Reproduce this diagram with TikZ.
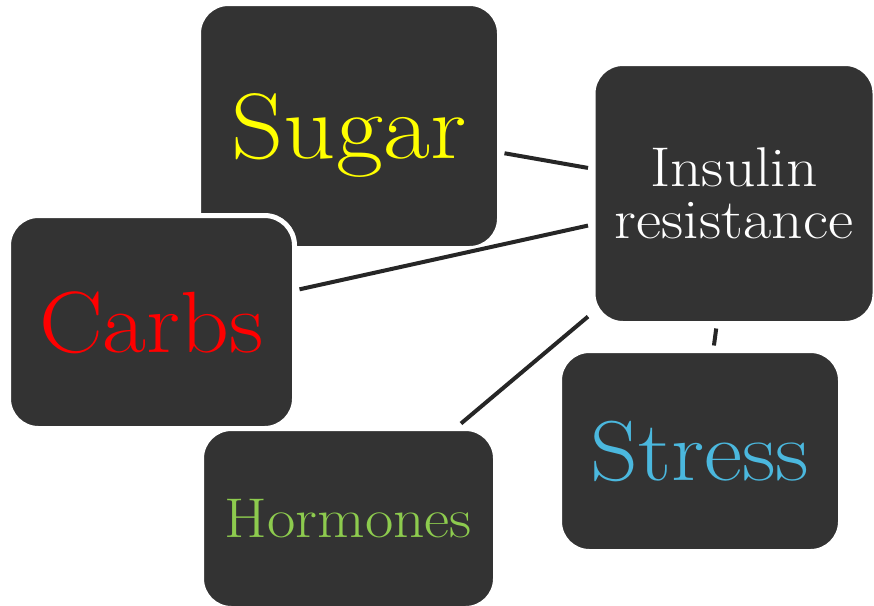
\documentclass[tikz,border=0pt]{standalone}
\definecolor{boxgray}{HTML}{333333}
\definecolor{linegray}{HTML}{262626}
\definecolor{sugaryellow}{HTML}{FFFF00}
\definecolor{carbsred}{HTML}{FF0000}
\definecolor{stressblue}{HTML}{4BB8DE}
\definecolor{hormgreen}{HTML}{8DCB4E}
\newcommand{\widetext}[1]{\scalebox{1.1}[1]{#1}}
\begin{document}
\begin{tikzpicture}[x=1pt,y=-1pt,
  box/.style={rectangle, rounded corners=30pt, fill=boxgray, draw=white, line width=5pt,
    inner sep=0pt, outer sep=5pt, align=center, text depth=0pt},
  link/.style={draw=linegray, line width=4pt}]
\useasboundingbox (0,0) rectangle (874,605);
\clip (0,0) rectangle (874,605);
\node[box, minimum width=301pt, minimum height=245pt, text=sugaryellow,
  font=\fontsize{93}{93}\selectfont] (sugar) at (349,126) {\widetext{Sugar}};
\node[box, minimum width=282pt, minimum height=260pt, text=white,
  font=\fontsize{56}{52}\selectfont, text depth=] (ins) at (734,193.5) {\widetext{Insulin}\\\widetext{resistance}};
\node[box, minimum width=286pt, minimum height=213pt, text=carbsred,
  font=\fontsize{87}{87}\selectfont] (carbs) at (151.5,322) {\widetext{Carbs}};
\node[box, minimum width=294pt, minimum height=180pt, text=hormgreen,
  font=\fontsize{56}{56}\selectfont] (horm) at (348.5,518.5) {\widetext{Hormones}};
\node[box, minimum width=281pt, minimum height=201pt, text=stressblue,
  font=\fontsize{85}{85}\selectfont] (stress) at (700,451) {\widetext{Stress}};
\draw[link] (sugar) -- (ins);
\draw[link] (carbs) -- (ins);
\draw[link] (horm) -- (ins);
\draw[link] (stress) -- (ins);
\end{tikzpicture}
\end{document}
